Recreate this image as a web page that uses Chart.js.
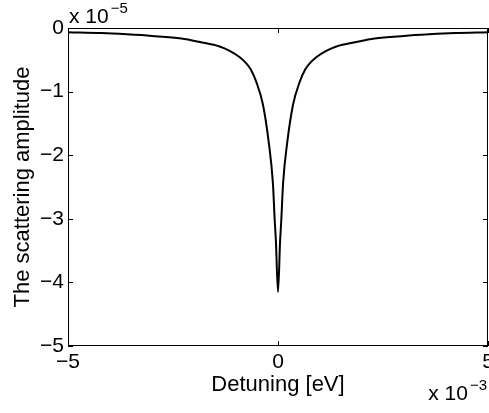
<!DOCTYPE html>
<html><head><meta charset="utf-8">
<script src="https://cdn.jsdelivr.net/npm/chart.js@4/dist/chart.umd.min.js"></script>
<style>html,body{margin:0;padding:0;background:#fff}</style>
</head><body>
<canvas id="c" width="489" height="413" style="width:489px;height:413px;display:block"></canvas>
<script>
// Detuning in units of 1e-3 eV
const detuning = [-5, -4.2, -3.6, -3, -2.3, -1.86, -1.39, -1.15, -0.91, -0.75, -0.65, -0.51, -0.36, -0.22, -0.12, -0.08, -0.05, 0,
                  0.05, 0.08, 0.12, 0.22, 0.36, 0.51, 0.65, 0.75, 0.91, 1.15, 1.39, 1.86, 2.3, 3, 3.6, 4.2, 5];
// Scattering amplitude in units of 1e-5
const amplitude = [-0.065, -0.08, -0.10, -0.125, -0.165, -0.22, -0.29, -0.36, -0.46, -0.56, -0.65, -0.86, -1.2, -1.8, -2.45, -3.0, -3.35, -4.15,
                   -3.35, -3.0, -2.45, -1.8, -1.2, -0.86, -0.65, -0.56, -0.46, -0.36, -0.29, -0.22, -0.165, -0.125, -0.10, -0.08, -0.065];
const xTicks = [-5, 0, 5];
const yTicks = [0, -1, -2, -3, -4, -5];
const xExponent = '\u22123';
const yExponent = '\u22125';
const xTitle = 'Detuning [eV]';
const yTitle = 'The scattering amplitude';

const FONT = 'Liberation Sans, Arial, Helvetica, sans-serif';
const fmt = v => String(v).replace('-', '\u2212');

const framePlugin = {
  id: 'frame',
  afterDatasetsDraw(chart) {
    const {ctx, chartArea: a, scales} = chart;
    ctx.save();
    ctx.strokeStyle = '#000';
    ctx.lineWidth = 1;
    ctx.strokeRect(a.left + 0.5, a.top + 0.5, a.right - a.left - 1, a.bottom - a.top - 1);
    const tl = 5;
    ctx.beginPath();
    yTicks.forEach(v => {
      const y = Math.round(scales.y.getPixelForValue(v)) + 0.5;
      ctx.moveTo(a.left, y); ctx.lineTo(a.left + tl, y);
      ctx.moveTo(a.right, y); ctx.lineTo(a.right - tl, y);
    });
    xTicks.forEach(v => {
      const x = Math.round(scales.x.getPixelForValue(v)) + 0.5;
      ctx.moveTo(x, a.bottom); ctx.lineTo(x, a.bottom - tl);
      ctx.moveTo(x, a.top); ctx.lineTo(x, a.top + tl);
    });
    ctx.stroke();
    // exponent labels
    ctx.fillStyle = '#000';
    ctx.textBaseline = 'alphabetic';
    ctx.textAlign = 'left';
    ctx.font = '21px ' + FONT;
    const base = 'x 10';
    let x0 = a.left + 1, y0 = a.top - 5;
    ctx.fillText(base, x0, y0);
    let w = ctx.measureText(base).width;
    ctx.font = '15px ' + FONT;
    ctx.fillText(yExponent, x0 + w + 2, y0 - 10);
    // bottom-right
    ctx.font = '15px ' + FONT;
    const we = ctx.measureText(xExponent).width;
    ctx.font = '21px ' + FONT;
    const wb = ctx.measureText(base).width;
    const xe = a.right - 1 - we;
    const xb = xe - 2 - wb;
    ctx.fillText(base, xb, 400);
    ctx.font = '15px ' + FONT;
    ctx.fillText(xExponent, xe, 390);
    ctx.restore();
  }
};

new Chart(document.getElementById('c'), {
  type: 'line',
  data: {
    datasets: [{
      data: detuning.map((x, i) => ({x, y: amplitude[i]})),
      borderColor: '#000',
      borderWidth: 2,
      pointRadius: 0,
      fill: false,
      cubicInterpolationMode: 'monotone'
    }]
  },
  options: {
    responsive: false,
    animation: false,
    devicePixelRatio: 1,
    layout: {padding: {left: 0, right: 1, top: 28, bottom: 0}},
    plugins: {legend: {display: false}, tooltip: {enabled: false}},
    scales: {
      x: {
        type: 'linear', min: -5, max: 5,
        afterBuildTicks: s => { s.ticks = xTicks.map(v => ({value: v})); },
        afterFit: s => { s.height = 67; s.paddingLeft = 0; s.paddingRight = 0; },
        grid: {display: false, drawTicks: false},
        border: {display: false},
        ticks: {color: '#000', font: {family: FONT, size: 21}, padding: 4, maxRotation: 0, autoSkip: false, callback: v => fmt(v)},
        title: {display: true, text: xTitle, color: '#000', font: {family: FONT, size: 22}, padding: {top: 0, bottom: 15}}
      },
      y: {
        type: 'linear', min: -5, max: 0,
        afterBuildTicks: s => { s.ticks = yTicks.map(v => ({value: v})); },
        afterFit: s => { s.width = 68; s.paddingTop = 0; s.paddingBottom = 0; },
        grid: {display: false, drawTicks: false},
        border: {display: false},
        ticks: {color: '#000', font: {family: FONT, size: 21}, padding: 4, autoSkip: false, callback: v => fmt(v)},
        title: {display: true, text: yTitle, color: '#000', font: {family: FONT, size: 22}, padding: {top: 10, bottom: 0}}
      }
    }
  },
  plugins: [framePlugin]
});
</script>
</body></html>
